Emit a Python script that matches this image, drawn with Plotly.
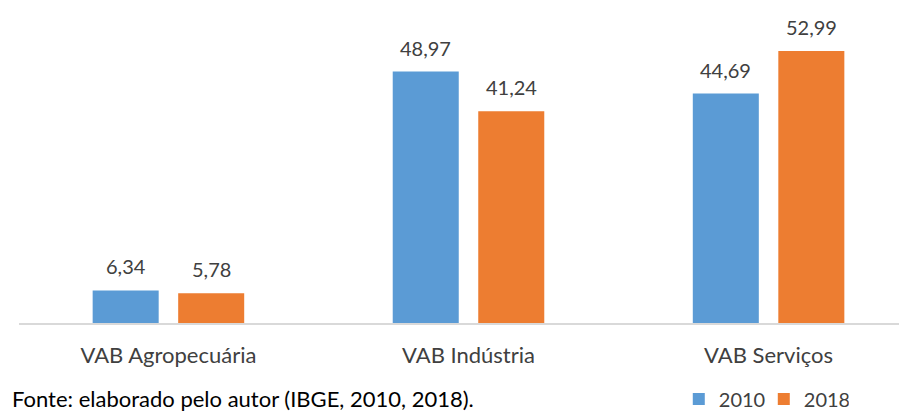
import plotly.graph_objects as go

categories = ["VAB Agropecuária", "VAB Indústria", "VAB Serviços"]
vab_2010 = [6.34, 48.97, 44.69]
vab_2018 = [5.78, 41.24, 52.99]
series_names = ["2010", "2018"]
fonte = "Fonte: elaborado pelo autor (IBGE, 2010, 2018)."

blue = "#5B9BD5"
orange = "#ED7D31"
txt = "#404040"
font_family = "Lato, 'Open Sans', sans-serif"

bargap = 0.43
xs = list(range(len(categories)))

fig = go.Figure()
series = [(series_names[0], vab_2010, blue), (series_names[1], vab_2018, orange)]
for j, (name, vals, col) in enumerate(series):
    fig.add_trace(go.Bar(
        x=xs, y=vals, name=name,
        marker=dict(color=col, line=dict(width=0)),
    ))
    # value labels above each bar (offset = centre of the bar inside its group)
    off = (j - 0.5) * (1 - bargap) / 2
    for i, v in zip(xs, vals):
        fig.add_annotation(
            x=i + off, y=v, xref="x", yref="y",
            text=f"{v:.2f}".replace(".", ","),
            showarrow=False, yanchor="bottom", yshift=10,
            font=dict(size=20, color=txt, family=font_family),
        )

fig.add_annotation(
    text=fonte, xref="paper", yref="paper", x=-0.0101, y=-0.244,
    xanchor="left", yanchor="middle", showarrow=False,
    font=dict(size=22, color="#000000", family=font_family),
)

# the page body adds an 8px offset, so the figure is laid out 8px up/left
fig.update_layout(
    width=907, height=412,
    margin=dict(l=11, r=9, t=7, b=97, autoexpand=False),
    paper_bgcolor="white", plot_bgcolor="white",
    barmode="group", bargap=bargap, bargroupgap=0.228,
    showlegend=True,
    legend=dict(
        orientation="h", xref="container", yref="container",
        x=0.927, xanchor="right", y=0.051, yanchor="middle",
        font=dict(size=20, color=txt, family=font_family),
        itemwidth=30, entrywidth=40, traceorder="normal",
        bgcolor="rgba(0,0,0,0)",
    ),
    font=dict(family=font_family, color=txt),
    xaxis=dict(
        tickmode="array", tickvals=xs, ticktext=categories,
        range=[-0.498, 2.458], automargin=False,
        showline=True, linecolor="#D9D9D9", linewidth=2,
        showgrid=False, zeroline=False, ticks="", ticklabelstandoff=12,
        tickfont=dict(size=22, color=txt, family=font_family),
        fixedrange=True,
    ),
    yaxis=dict(
        range=[0, 60], visible=False, showgrid=False, zeroline=False,
        automargin=False,
    ),
)

fig.write_html("out.html")
